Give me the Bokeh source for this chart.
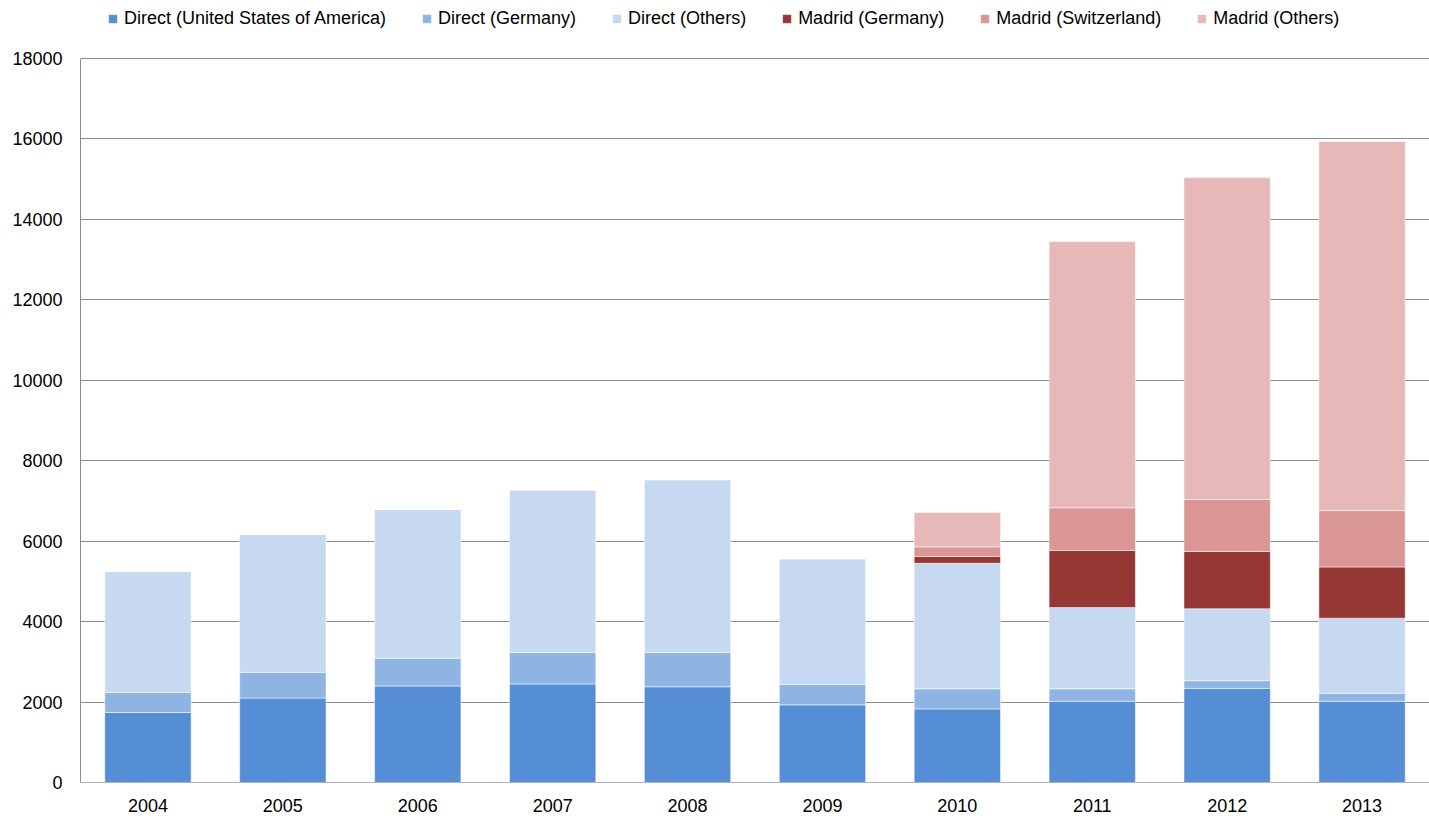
from bokeh.plotting import figure
from bokeh.models import ColumnDataSource, FactorRange, Range1d, FixedTicker, Legend, LegendItem
from bokeh.embed import file_html
from bokeh.resources import INLINE

years = ["2004", "2005", "2006", "2007", "2008", "2009", "2010", "2011", "2012", "2013"]
direct_usa = [1740, 2100, 2400, 2450, 2380, 1930, 1830, 2020, 2340, 2020]
direct_germany = [500, 640, 690, 780, 850, 510, 500, 310, 190, 200]
direct_others = [3010, 3430, 3700, 4045, 4300, 3125, 3120, 2020, 1790, 1865]
madrid_germany = [0, 0, 0, 0, 0, 0, 170, 1420, 1425, 1275]
madrid_switzerland = [0, 0, 0, 0, 0, 0, 240, 1060, 1290, 1400]
madrid_others = [0, 0, 0, 0, 0, 0, 850, 6620, 8005, 9175]
y_ticks = [0, 2000, 4000, 6000, 8000, 10000, 12000, 14000, 16000, 18000]

series = ["direct_usa", "direct_germany", "direct_others",
          "madrid_germany", "madrid_switzerland", "madrid_others"]
labels = ["Direct (United States of America)", "Direct (Germany)", "Direct (Others)",
          "Madrid (Germany)", "Madrid (Switzerland)", "Madrid (Others)"]
colors = ["#558ED5", "#8EB4E3", "#C6D9F1", "#953735", "#D99694", "#E6B9B8"]

source = ColumnDataSource(dict(
    years=years,
    direct_usa=direct_usa,
    direct_germany=direct_germany,
    direct_others=direct_others,
    madrid_germany=madrid_germany,
    madrid_switzerland=madrid_switzerland,
    madrid_others=madrid_others,
))

FONT = "Liberation Sans"
Y_MAX = 18000
# the frame reaches the top of the page so the legend (inside it) stays visible;
# the axis area itself spans 724 of the frame's 782 px
Y_TOP = Y_MAX * 782 / 724

p = figure(x_range=FactorRange(factors=years, range_padding=0),
           y_range=Range1d(0, Y_TOP),
           width=1429, height=820,
           output_backend="svg", toolbar_location=None,
           min_border_left=80, min_border_top=0, min_border_bottom=38,
           min_border_right=0)

renderers = p.vbar_stack(series, x="years", width=0.64, source=source,
                         color=colors, line_color="white", line_alpha=0.5,
                         line_width=1)

p.outline_line_color = None
p.xgrid.grid_line_color = None
p.ygrid.grid_line_color = "#8C8C8C"
p.ygrid.grid_line_width = 1
p.yaxis.ticker = FixedTicker(ticks=y_ticks)
p.yaxis.bounds = (0, Y_MAX)

p.yaxis.axis_line_color = "#8C8C8C"
p.yaxis.major_tick_line_color = None
p.yaxis.minor_tick_line_color = None
p.yaxis.major_tick_out = 0
p.yaxis.major_tick_in = 0
p.yaxis.minor_tick_out = 0
p.yaxis.major_label_standoff = 18
p.yaxis.major_label_text_font = FONT
p.yaxis.major_label_text_font_size = "18px"
p.yaxis.major_label_text_color = "#000000"

p.xaxis.axis_line_color = "#B4B4B4"
p.xaxis.major_tick_line_color = None
p.xaxis.minor_tick_line_color = None
p.xaxis.major_tick_out = 0
p.xaxis.major_tick_in = 0
p.xaxis.minor_tick_out = 0
p.xaxis.major_label_standoff = 16
p.xaxis.major_label_text_font = FONT
p.xaxis.major_label_text_font_size = "18px"
p.xaxis.major_label_text_color = "#000000"

legend = Legend(items=[LegendItem(label=l, renderers=[r]) for l, r in zip(labels, renderers)],
                orientation="horizontal", location=(27, 753),
                glyph_width=11, glyph_height=11, label_standoff=6, spacing=35,
                padding=0, margin=0, border_line_color=None, background_fill_alpha=0,
                label_text_font=FONT, label_text_font_size="18px",
                label_text_color="#000000")
p.add_layout(legend, "center")

open("out.html", "w").write(file_html(p, INLINE))
